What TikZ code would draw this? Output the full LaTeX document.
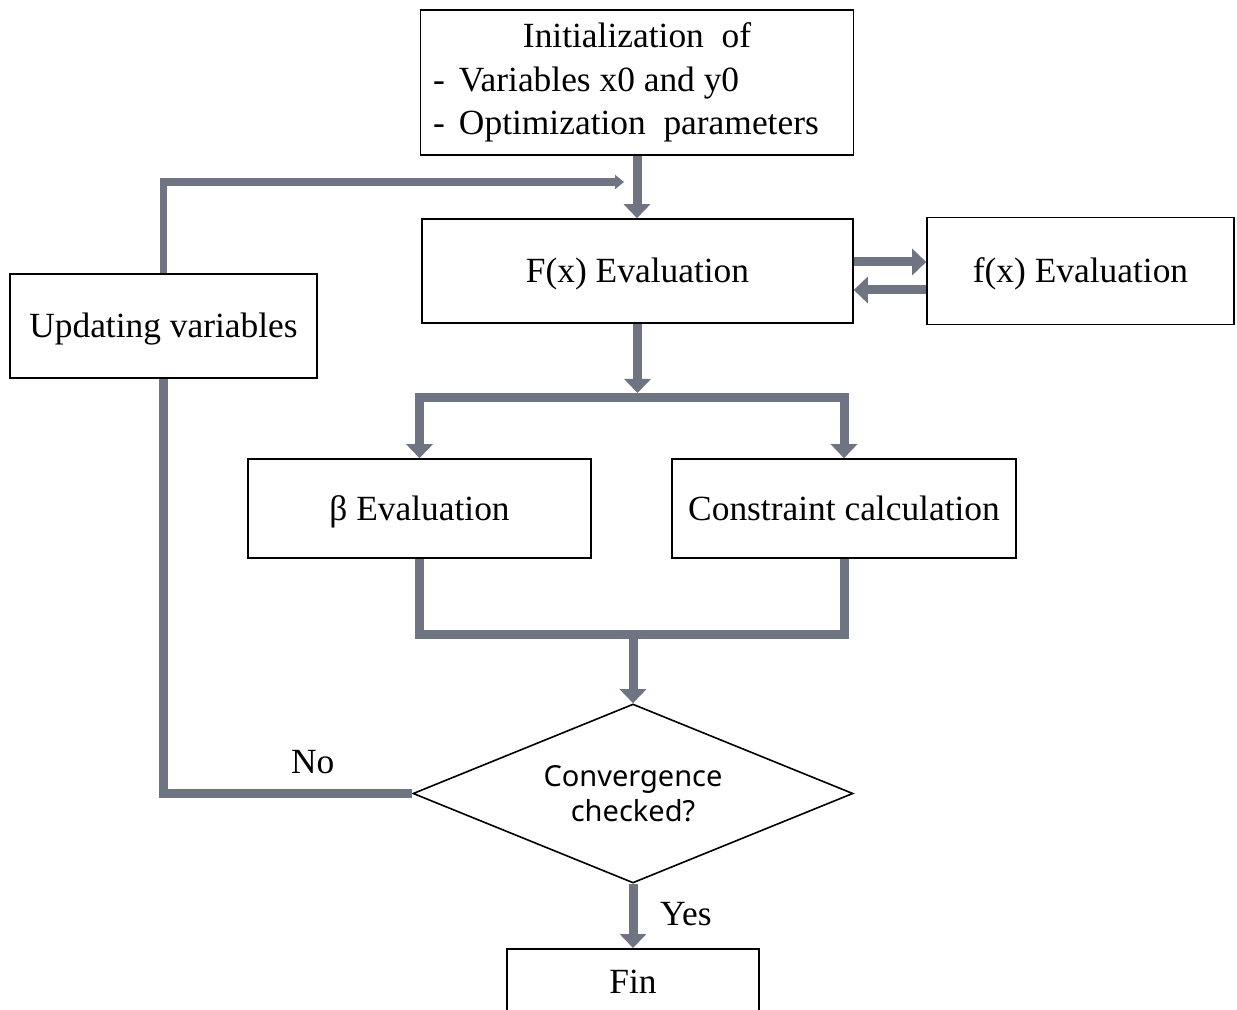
\documentclass[tikz,border=0pt]{standalone}
\usepackage{fontspec}
\setmainfont{Liberation Serif}
\newfontfamily\diafont{Noto Sans}
\usetikzlibrary{shapes.geometric, arrows.meta, calc}
\definecolor{arrowgray}{RGB}{110,116,130}
\tikzset{
  block/.style    = {draw, line width=0.8pt, fill=white, inner sep=0pt,
                     align=center},
  decision/.style = {draw, diamond, line width=0.8pt, fill=white, inner sep=0pt,
                     aspect=2.46, minimum width=220pt, minimum height=89.5pt,
                     align=center, font=\diafont\fontsize{14.5}{17.5}\selectfont},
  flow/.style     = {-{Triangle[width=13pt,length=7pt]}, line width=4.5pt,
                     draw=arrowgray},
  link/.style     = {line width=4.5pt, draw=arrowgray},
  back/.style     = {-{Triangle[width=7pt,length=4.5pt]}, line width=3.6pt,
                     draw=arrowgray}
}

\begin{document}
\begin{tikzpicture}[x=0.5pt, y=-0.5pt, font=\fontsize{17.7}{21.75}\selectfont]
\useasboundingbox (0,0) rectangle (1237,1010);
% ---- Boxes (centre x/y, width, height) ----
\node[block, minimum width=216.5pt, minimum height=72.5pt] (init) at (637,82.5)
  {\begin{tabular}{@{}l@{\hspace{11pt}}}
   \multicolumn{1}{@{}c@{}}{Initialization~ of}\\
   -\hspace{7pt}Variables x0 and y0\\
   -\hspace{7pt}Optimization~ parameters
   \end{tabular}};
\foreach \nm/\cx/\cy/\w/\h/\txt in {%
  fx/637.5/271/215.5/52/F(x) Evaluation,
  fsub/1080.5/271/153.5/53.5/f(x) Evaluation,
  upd/163.5/326/153.5/52/Updating variables,
  beta/419.5/508.5/171.5/49.5/β Evaluation,
  cons/844/508.5/172/49.5/Constraint calculation} {
  \node[block, text height=12.1pt, text depth=0.3pt,
        minimum width=\w pt, minimum height=\h pt] (\nm) at (\cx,\cy) {\txt};
}
\node[decision] (conv) at (633,793.5) {Convergence\\checked?};
\node[block, anchor=north, minimum width=126pt, minimum height=33pt] (fin)
  at (633,948) {Fin};

% ---- Junction points ----
\coordinate (reentry) at (624,182);
\coordinate (split) at (640,397.5);
\coordinate (join) at (633,634);

% ---- Arrows ----
\draw[flow] (init.south) -- (init.south |- fx.north);
\draw[back] (upd.north) |- (reentry);
\draw[flow] ([yshift=4.5pt]fx.east) -- ([yshift=4.5pt]fsub.west);
\draw[flow] ([yshift=-9.5pt]fsub.west) -- ([yshift=-9.5pt]fx.east);
\draw[flow, shorten >=2.25pt] (fx.south) -- (fx.south |- split);
\draw[link, line cap=rect] (beta.north |- split) -- (cons.north |- split);
\draw[flow] (beta.north |- split) -- (beta.north);
\draw[flow] (cons.north |- split) -- (cons.north);
\draw[link] (beta.south) |- (join) -| (cons.south);
\draw[flow] (join) -- (conv.north);
\draw[link] (conv.west) -| node[pos=0.2, above=4pt] (nolab) {No} (upd.south);
\draw[flow] (conv.south) -- (fin.north)
  node[midway, right=8pt, yshift=1pt] (yeslab) {Yes};
\end{tikzpicture}
\end{document}
